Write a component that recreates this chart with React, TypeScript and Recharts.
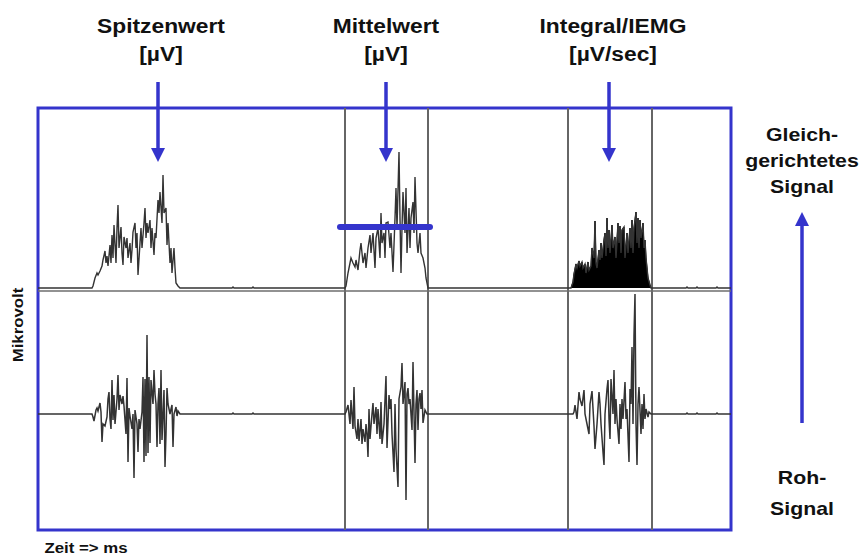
import {
  ComposedChart,
  Line,
  Area,
  XAxis,
  YAxis,
  ReferenceLine,
  ReferenceArea,
  ReferenceDot,
} from "recharts";

// time axis in ms, amplitude in µV
const TIME_END = 693;

// raw EMG bursts: [ms, µV]
const rawBurst1: [number, number][] = [
  [54, 0], [55, -3], [56, -7], [58, 4], [59, 6], [60, 3], [62, 11], [63, 2], [64, -28], [65, -10],
  [67, -12], [69, -3], [70, 15], [71, 22], [72, -5], [73, -15], [74, 34], [75, -6], [76, 19], [77, -10],
  [79, 15], [80, 39], [81, 4], [82, 19], [84, 10], [85, 18], [86, 8], [88, -20], [89, 36], [90, -48],
  [91, 6], [92, -2], [94, -15], [95, 0], [96, -64], [97, 4], [99, -10], [100, -38], [101, -5], [102, -15],
  [104, 2], [105, 37], [106, -48], [107, 35], [108, -42], [109, 79], [110, -39], [111, 37], [112, -29], [113, 34],
  [115, 10], [116, 44], [117, 20], [118, 10], [119, -33], [120, 10], [121, 26], [122, -30], [123, 44], [124, -26],
  [126, 24], [127, -53], [128, -20], [129, 26], [130, 10], [132, 0], [133, 5], [134, 9], [135, -33], [136, 0],
  [138, 7], [139, -2], [140, 3], [142, 0],
];

const rawBurst2: [number, number][] = [
  [307, 0], [308, 2], [310, 9], [312, -10], [313, 14], [315, -15], [316, 27], [317, -12], [319, -25], [320, -5],
  [321, -27], [323, -5], [324, -30], [325, -15], [327, -28], [328, -10], [329, -20], [330, -43], [331, 5], [332, -25],
  [334, 0], [335, 11], [336, -10], [338, 7], [339, -20], [340, 5], [342, -25], [343, 12], [344, -30], [346, -10],
  [348, 38], [349, -34], [351, 19], [352, 5], [353, 15], [354, -20], [356, -58], [357, 10], [358, -35], [360, -73],
  [361, 15], [363, 27], [364, 51], [365, 10], [367, 32], [368, -86], [369, 20], [370, 26], [371, 10], [372, 15],
  [374, -16], [375, 52], [377, -49], [378, 10], [379, 24], [380, -16], [381, 15], [382, 21], [383, 5], [384, 24],
  [385, -9], [387, 4], [389, 0],
];

const rawBurst3: [number, number][] = [
  [535, 0], [536, 2], [537, 9], [539, -5], [541, 22], [542, 15], [544, 8], [546, 24], [547, 0], [549, -10],
  [551, -20], [552, 10], [554, 23], [556, -12], [557, -35], [559, -10], [561, 22], [562, 10], [563, -10], [565, -38],
  [566, -51], [567, 0], [569, 25], [570, 34], [571, -5], [572, -25], [573, 35], [575, 0], [576, 44], [577, -10],
  [578, 15], [579, -5], [581, -30], [582, 10], [583, -15], [584, 15], [585, -5], [587, 32], [588, -5], [589, 5],
  [591, -48], [592, 25], [593, 10], [594, 67], [595, -10], [596, 79], [597, 120], [598, -10], [599, -51], [600, 10],
  [601, 27], [603, -20], [604, 10], [605, -15], [606, 20], [607, -5], [608, 5], [610, -3], [611, 2], [613, 0],
];

// small blips on the resting baseline
const baselineBlips: [number, number][] = [
  [194, 0], [195, 1], [196, 0], [214, 0], [215, 1], [216, 0],
];
const tailBlips: [number, number][] = [
  [648, 0], [649, 1], [650, 0], [658, 0], [659, 1], [660, 0], [678, 0], [679, 1], [680, 0],
];

// rectified signal bursts: [ms, µV]
const rectBurst1: [number, number][] = [
  [54, 0], [55, 2], [57, 10], [59, 15], [60, 13], [62, 17], [64, 22], [65, 28], [67, 37], [68, 25],
  [69, 32], [70, 22], [72, 43], [73, 25], [74, 53], [75, 30], [76, 63], [78, 25], [79, 60], [80, 83],
  [81, 40], [83, 61], [84, 35], [85, 23], [86, 51], [88, 40], [89, 50], [90, 30], [92, 45], [93, 25],
  [94, 38], [95, 56], [97, 65], [98, 40], [99, 55], [100, 13], [102, 45], [103, 60], [104, 40], [106, 65],
  [107, 80], [108, 50], [109, 65], [110, 55], [112, 68], [113, 40], [114, 60], [116, 33], [117, 55], [118, 50],
  [120, 88], [121, 75], [122, 96], [124, 65], [125, 113], [126, 75], [128, 80], [129, 43], [130, 65], [132, 25],
  [133, 40], [134, 15], [136, 40], [137, 20], [138, 5], [140, 2], [142, 0],
];

const rectBurst2: [number, number][] = [
  [307, 0], [308, 2], [310, 15], [312, 25], [313, 30], [315, 25], [317, 21], [318, 28], [320, 18], [322, 38],
  [323, 45], [325, 25], [327, 35], [328, 20], [330, 40], [332, 53], [333, 35], [335, 55], [337, 20], [338, 50],
  [340, 60], [342, 30], [343, 75], [344, 45], [346, 55], [347, 30], [348, 65], [350, 66], [352, 40], [353, 55],
  [355, 16], [357, 70], [358, 100], [359, 60], [361, 136], [362, 70], [363, 15], [364, 60], [365, 96], [367, 55],
  [368, 100], [369, 35], [371, 80], [372, 40], [373, 70], [375, 86], [376, 55], [377, 111], [379, 45], [380, 35],
  [382, 55], [383, 35], [385, 30], [387, 20], [388, 10], [390, 0],
];

// integrated window (drawn filled)
const rectBurst3: [number, number][] = [
  [533, 0], [535, 6], [536, 14], [538, 24], [539, 20], [541, 27], [542, 22], [544, 26], [545, 20], [547, 24],
  [548, 15], [550, 26], [551, 18], [553, 22], [554, 40], [556, 30], [557, 67], [558, 25], [559, 20], [561, 38],
  [562, 28], [563, 45], [564, 30], [566, 48], [567, 55], [568, 32], [569, 70], [570, 40], [571, 58], [572, 35],
  [574, 63], [575, 40], [577, 51], [578, 30], [580, 65], [581, 45], [582, 62], [583, 35], [584, 58], [586, 61],
  [587, 30], [589, 55], [590, 35], [592, 60], [593, 40], [594, 68], [595, 35], [596, 60], [598, 76], [599, 45],
  [600, 70], [601, 40], [602, 68], [603, 50], [605, 65], [606, 40], [607, 48], [608, 30], [609, 20], [610, 10],
  [612, 3], [613, 0],
];

// analysis windows and mean level
const windowEdges = [307, 390, 530, 614];
const meanLevel = 61;
const meanSpan: [number, number] = [302, 392];

// labels
const windowTitles = [
  { t: 123, lines: ["Spitzenwert", "[µV]"] },
  { t: 348, lines: ["Mittelwert", "[µV]"] },
  { t: 575, lines: ["Integral/IEMG", "[µV/sec]"] },
];
const arrowTimes = [120, 348, 571];
const rectifiedLabel = ["Gleich-", "gerichtetes", "Signal"];
const rawLabel = ["Roh-", "Signal"];
const yLabel = "Mikrovolt";
const xLabel = "Zeit => ms";

const BLUE = "#3434cc";
const TRACE = "#333";
const FONT = "'Liberation Sans', Arial, sans-serif";

const toSeries = (parts: [number, number][][]) => [
  { t: 0, v: 0 },
  ...parts.flat().map(([t, v]) => ({ t, v })),
  { t: TIME_END, v: 0 },
];

const rawSeries = toSeries([rawBurst1, baselineBlips, rawBurst2, rawBurst3, tailBlips]);
const rectSeries = toSeries([rectBurst1, baselineBlips, rectBurst2, rectBurst3, tailBlips]);
const integralSeries = rectBurst3.map(([t, v]) => ({ t, v }));

const downHead = (p: any) => (
  <path d={`M${p.cx - 7},${p.cy - 14}L${p.cx + 7},${p.cy - 14}L${p.cx},${p.cy}Z`} fill={BLUE} />
);
const upHead = (p: any) => (
  <path d={`M${p.cx - 7},${p.cy + 14}L${p.cx + 7},${p.cy + 14}L${p.cx},${p.cy}Z`} fill={BLUE} />
);

const Caption = ({
  x,
  y,
  text,
  size = 20,
  stretch = 1.14,
  rotate = false,
}: {
  x: number;
  y: number;
  text: string;
  size?: number;
  stretch?: number;
  rotate?: boolean;
}) => (
  <div
    style={{
      position: "absolute",
      left: x,
      top: y,
      transform: `translate(-50%, -50%)${rotate ? " rotate(-90deg)" : ""} scaleX(${stretch})`,
      fontFamily: FONT,
      fontWeight: 700,
      fontSize: size,
      lineHeight: 1,
      whiteSpace: "nowrap",
      color: "#111",
    }}
  >
    {text}
  </div>
);

const App = () => {
  return (
    <div
      style={{
        position: "absolute",
        left: 0,
        top: 0,
        width: 866,
        height: 555,
        background: "#fff",
        overflow: "hidden",
      }}
    >
      <ComposedChart
        width={866}
        height={555}
        margin={{ top: 108, right: 135, bottom: 25, left: 38 }}
      >
        <XAxis dataKey="t" type="number" domain={[0, TIME_END]} allowDataOverflow hide />
        <YAxis yAxisId="raw" type="number" domain={[-116, 306]} allowDataOverflow hide />
        <YAxis yAxisId="rect" type="number" domain={[-242, 180]} allowDataOverflow hide />

        {windowEdges.map((t) => (
          <ReferenceLine key={t} x={t} yAxisId="raw" stroke="#666" strokeWidth={2} />
        ))}
        <ReferenceLine y={-3} yAxisId="rect" stroke="#6e6e6e" strokeWidth={1.5} />

        <Area
          data={integralSeries}
          dataKey="v"
          yAxisId="rect"
          type="linear"
          baseValue={0}
          stroke="#000"
          strokeWidth={1}
          fill="#000"
          fillOpacity={1}
          dot={false}
          activeDot={false}
          isAnimationActive={false}
        />
        <Line
          data={rectSeries}
          dataKey="v"
          yAxisId="rect"
          type="linear"
          stroke={TRACE}
          strokeWidth={1.4}
          dot={false}
          activeDot={false}
          isAnimationActive={false}
        />
        <Line
          data={rawSeries}
          dataKey="v"
          yAxisId="raw"
          type="linear"
          stroke={TRACE}
          strokeWidth={1.5}
          dot={false}
          activeDot={false}
          isAnimationActive={false}
        />

        <ReferenceLine
          yAxisId="rect"
          segment={[
            { x: meanSpan[0], y: meanLevel },
            { x: meanSpan[1], y: meanLevel },
          ]}
          stroke={BLUE}
          strokeWidth={6}
          strokeLinecap="round"
          ifOverflow="visible"
        />

        {arrowTimes.map((t) => (
          <ReferenceLine
            key={`shaft-${t}`}
            yAxisId="raw"
            segment={[
              { x: t, y: 332 },
              { x: t, y: 264 },
            ]}
            stroke={BLUE}
            strokeWidth={3.5}
            ifOverflow="visible"
          />
        ))}
        {arrowTimes.map((t) => (
          <ReferenceDot
            key={`head-${t}`}
            yAxisId="raw"
            x={t}
            y={252}
            r={7}
            shape={downHead}
            ifOverflow="visible"
          />
        ))}

        <ReferenceLine
          yAxisId="raw"
          segment={[
            { x: 764, y: -9 },
            { x: 764, y: 190 },
          ]}
          stroke={BLUE}
          strokeWidth={3.5}
          ifOverflow="visible"
        />
        <ReferenceDot yAxisId="raw" x={764} y={202} r={7} shape={upHead} ifOverflow="visible" />

        <ReferenceArea
          yAxisId="raw"
          x1={0}
          x2={TIME_END}
          y1={-116}
          y2={306}
          fill="none"
          stroke={BLUE}
          strokeWidth={3}
          ifOverflow="visible"
        />
      </ComposedChart>

      {windowTitles.map((w) =>
        w.lines.map((line, i) => (
          <Caption key={line + w.t} x={38 + w.t} y={26 + i * 28} text={line} />
        ))
      )}
      {rectifiedLabel.map((line, i) => (
        <Caption key={line} x={802} y={134 + i * 26} text={line} size={19} stretch={1.12} />
      ))}
      {rawLabel.map((line, i) => (
        <Caption key={line} x={802} y={477 + i * 31} text={line} size={19} stretch={1.12} />
      ))}
      <Caption x={18} y={325} text={yLabel} size={14} stretch={1.2} rotate />
      <Caption x={86} y={548} text={xLabel} size={14} stretch={1.2} />
    </div>
  );
};

export default App;
